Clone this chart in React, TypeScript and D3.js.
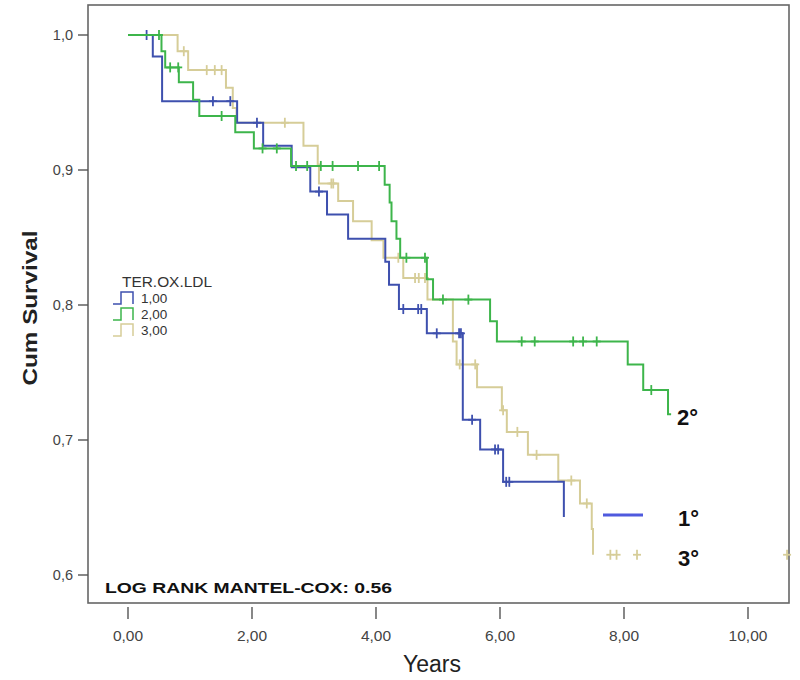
import React from "react";
import * as d3 from "d3";

// ---- Data ----
const groups = ["1,00", "2,00", "3,00"];
const legendTitle = "TER.OX.LDL";

const steps1Time = [0, 0.4, 0.55, 1.76, 2.18, 2.64, 2.94, 3.21, 3.55, 4.15, 4.21, 4.37, 4.82, 5.4, 5.68, 6.05, 7.03];
const steps1Surv = [1.0, 0.984, 0.951, 0.935, 0.918, 0.902, 0.884, 0.867, 0.849, 0.832, 0.815, 0.797, 0.779, 0.715, 0.693, 0.669, 0.643];
const censors1 = [0.3, 1.37, 1.65, 2.08, 3.08, 4.44, 4.68, 4.73, 4.98, 5.34, 5.37, 5.55, 5.92, 5.97, 6.1, 6.15];
const end1 = 7.03;

const steps2Time = [0, 0.54, 0.6, 0.82, 1.05, 1.15, 1.73, 2.03, 2.63, 4.14, 4.22, 4.25, 4.33, 4.39, 4.82, 4.92, 5.84, 5.95, 8.06, 8.31, 8.71];
const steps2Surv = [1.0, 0.988, 0.976, 0.965, 0.952, 0.94, 0.928, 0.916, 0.903, 0.889, 0.876, 0.862, 0.849, 0.835, 0.819, 0.804, 0.788, 0.773, 0.756, 0.737, 0.719];
const censors2 = [0.5, 0.68, 0.81, 1.51, 2.17, 2.4, 2.71, 2.89, 3.11, 3.3, 3.71, 4.05, 4.49, 4.79, 5.08, 5.49, 6.35, 6.56, 7.18, 7.34, 7.56, 8.44];
const end2 = 8.76;

const steps3Time = [0, 0.8, 0.97, 1.58, 1.69, 1.75, 2.83, 3.06, 3.08, 3.39, 3.63, 3.93, 4.12, 4.44, 4.83, 5.24, 5.3, 5.63, 6.03, 6.11, 6.45, 6.94, 7.29, 7.48, 7.5];
const steps3Surv = [1.0, 0.988, 0.974, 0.961, 0.946, 0.935, 0.918, 0.904, 0.89, 0.877, 0.862, 0.848, 0.835, 0.82, 0.804, 0.773, 0.756, 0.739, 0.722, 0.706, 0.689, 0.67, 0.653, 0.634, 0.615];
const censors3 = [0.9, 1.27, 1.4, 1.51, 2.53, 3.28, 3.31, 4.36, 4.63, 4.69, 4.79, 5.35, 5.6, 6.05, 6.28, 6.59, 7.15, 7.4, 7.78, 7.88, 8.21, 10.63];
const end3 = 7.5;

const xTicks = [0, 2, 4, 6, 8, 10];
const yTicks = [0.6, 0.7, 0.8, 0.9, 1.0];
const curveLabels = ["2°", "1°", "3°"];
const logRankText = "LOG RANK MANTEL-COX: 0.56";

const colors = ["#3e50ae", "#3db54b", "#d6cd98"];

// ---- Layout ----
const W = 800, H = 680;
const frame = { left: 88, top: 5, right: 789, bottom: 603 };

const x = d3.scaleLinear().domain([0, 2]).range([128, 252]);
x.domain([x.invert(frame.left), x.invert(frame.right)]).range([frame.left, frame.right]);
const y = d3.scaleLinear().domain([1.0, 0.6]).range([35, 575]);
y.domain([y.invert(frame.top), y.invert(frame.bottom)]).range([frame.top, frame.bottom]);

const fmtX = (v: number) => d3.format(".2f")(v).replace(".", ",");
const fmtY = (v: number) => d3.format(".1f")(v).replace(".", ",");

function survAt(times: number[], surv: number[], t: number) {
  let s = surv[0];
  for (let i = 0; i < times.length; i++) if (times[i] <= t) s = surv[i];
  return s;
}

const series = [
  { times: steps1Time, surv: steps1Surv, cens: censors1, end: end1, color: colors[0] },
  { times: steps2Time, surv: steps2Surv, cens: censors2, end: end2, color: colors[1] },
  { times: steps3Time, surv: steps3Surv, cens: censors3, end: end3, color: colors[2] },
];

const line = d3
  .line<[number, number]>()
  .x((d) => x(d[0]))
  .y((d) => y(d[1]))
  .curve(d3.curveStepAfter);

const font = "Liberation Sans, Arial, sans-serif";

export default function App() {
  const drawOrder = [2, 0, 1];
  return (
    <svg width={W} height={H} style={{ position: "absolute", left: 0, top: 0, background: "#fff" }} fontFamily={font}>
      <rect x={0} y={0} width={W} height={H} fill="#fff" />
      {/* frame */}
      <rect x={frame.left} y={frame.top} width={frame.right - frame.left} height={frame.bottom - frame.top} fill="none" stroke="#666" strokeWidth={1.6} />
      {/* y ticks */}
      {yTicks.map((v) => (
        <g key={"y" + v}>
          <line x1={frame.left - 10} x2={frame.left} y1={y(v)} y2={y(v)} stroke="#555" strokeWidth={1.4} />
          <text x={frame.left - 15} y={y(v)} dy="0.35em" textAnchor="end" fontSize={14.5} fill="#444">{fmtY(v)}</text>
        </g>
      ))}
      {/* x ticks */}
      {xTicks.map((v) => (
        <g key={"x" + v}>
          <line x1={x(v)} x2={x(v)} y1={frame.bottom + 4} y2={frame.bottom + 16} stroke="#555" strokeWidth={1.4} />
          <text x={x(v)} y={frame.bottom + 38} textAnchor="middle" fontSize={15.5} fill="#444">{fmtX(v)}</text>
        </g>
      ))}
      <text x={432} y={672} textAnchor="middle" fontSize={23} fill="#222">Years</text>
      <text transform={`translate(37,308) rotate(-90)`} textAnchor="middle" fontSize={20} fontWeight="bold" fill="#222" textLength={155} lengthAdjust="spacingAndGlyphs">Cum Survival</text>

      {/* curves */}
      {drawOrder.map((gi) => {
        const s = series[gi];
        const pts: [number, number][] = s.times.map((t, i) => [t, s.surv[i]] as [number, number]);
        const last = pts[pts.length - 1];
        if (s.end > last[0]) pts.push([s.end, last[1]]);
        return (
          <g key={"s" + gi}>
            <path d={line(pts) || ""} fill="none" stroke={s.color} strokeWidth={2} />
            {s.cens.map((t, i) => {
              const cx = x(t), cy = y(survAt(s.times, s.surv, t));
              return (
                <g key={i} stroke={s.color} strokeWidth={1.8}>
                  <line x1={cx} x2={cx} y1={cy - 5} y2={cy + 5} />
                  <line x1={cx - 4} x2={cx + 4} y1={cy} y2={cy} />
                </g>
              );
            })}
          </g>
        );
      })}

      {/* legend */}
      <text x={122} y={287} fontSize={14} fill="#333" textLength={90} lengthAdjust="spacingAndGlyphs">{legendTitle}</text>
      {groups.map((g, i) => {
        const by = 303 + i * 16;
        return (
          <g key={"l" + i}>
            <path d={`M113,${by + 1}H121V${by - 11}H133V${by + 1}`} fill="none" stroke={colors[i]} strokeWidth={1.5} />
            <text x={141} y={by} fontSize={13.5} fill="#333">{g}</text>
          </g>
        );
      })}

      {/* annotations */}
      <text x={105} y={593} fontSize={15} fontWeight="bold" fill="#111" textLength={287} lengthAdjust="spacingAndGlyphs">{logRankText}</text>
      <line x1={603} x2={643} y1={515} y2={515} stroke="#4f5ade" strokeWidth={3} />
      <text x={677} y={425} fontSize={22} fontWeight="bold" fill="#111">{curveLabels[0]}</text>
      <text x={678} y={526} fontSize={22} fontWeight="bold" fill="#111">{curveLabels[1]}</text>
      <text x={678} y={566} fontSize={22} fontWeight="bold" fill="#111">{curveLabels[2]}</text>
    </svg>
  );
}
